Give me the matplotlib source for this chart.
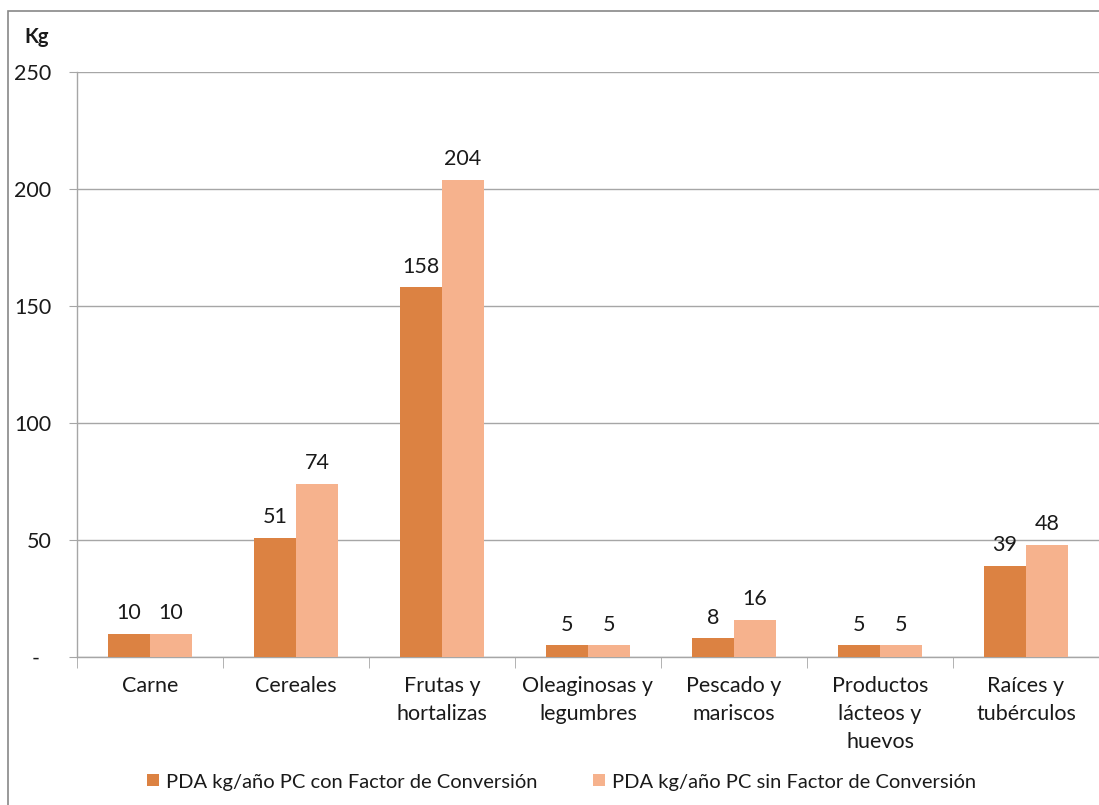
import matplotlib
matplotlib.use("Agg")
import matplotlib.pyplot as plt
from matplotlib.patches import Rectangle
import numpy as np

categories = ["Carne", "Cereales", "Frutas y\nhortalizas", "Oleaginosas y\nlegumbres",
              "Pescado y\nmariscos", "Productos\nlácteos y\nhuevos", "Raíces y\ntubérculos"]
con_factor = [10, 51, 158, 5, 8, 5, 39]
sin_factor = [10, 74, 204, 5, 16, 5, 48]
series_names = ["PDA kg/año PC con Factor de Conversión",
                "PDA kg/año PC sin Factor de Conversión"]
y_ticks = [0, 50, 100, 150, 200, 250]
y_ticklabels = ["-  ", "50", "100", "150", "200", "250"]

plt.rcParams["font.family"] = ["Lato", "DejaVu Sans"]
dark = "#DC8242"
light = "#F6B28D"
grid_c = "#A6A6A6"
text_c = "#1a1a1a"
fs = 15.5

fig = plt.figure(figsize=(10.99, 8.05), dpi=100)
ax = fig.add_axes([77 / 1099, 1 - 657 / 805, 1 - 77 / 1099, (657 - 72) / 805])

x = np.arange(len(categories))
w = 0.288
b1 = ax.bar(x - w / 2, con_factor, w, color=dark, label=series_names[0], zorder=3)
b2 = ax.bar(x + w / 2, sin_factor, w, color=light, label=series_names[1], zorder=3)

for bars, vals in ((b1, con_factor), (b2, sin_factor)):
    for r, v in zip(bars, vals):
        ax.annotate(f"{v}", (r.get_x() + r.get_width() / 2, v), xytext=(0, 7.5),
                    textcoords="offset points", ha="center", va="bottom",
                    fontsize=fs, color=text_c)

ax.set_xlim(-0.5, len(categories) - 0.5)
ax.set_ylim(0, 250)
ax.set_yticks(y_ticks)
ax.set_yticklabels(y_ticklabels, fontsize=fs, color=text_c)
ax.yaxis.grid(True, color=grid_c, linewidth=1, zorder=0)
ax.tick_params(axis="y", length=6, color=grid_c, pad=12.5)

# category labels on the ticks, boundary tick marks on the minor locator
ax.set_xticks(x)
ax.set_xticklabels(categories, fontsize=fs, color=text_c, linespacing=1.5)
ax.tick_params(axis="x", which="major", length=0, pad=14)
ax.set_xticks(np.arange(-0.5, len(categories)), minor=True)
ax.tick_params(axis="x", which="minor", length=8, color=grid_c)

for s in ("top", "right"):
    ax.spines[s].set_visible(False)
for s in ("left", "bottom"):
    ax.spines[s].set_color(grid_c)
    ax.spines[s].set_linewidth(1)

fig.text(24 / 1099, 1 - 37 / 805, "Kg", fontsize=14.5, fontweight="bold",
         color=text_c, ha="left", va="center")

fig.legend(handles=[b1, b2], labels=series_names, loc="center",
           bbox_to_anchor=(0.511, 1 - 782 / 805), ncol=2, frameon=False,
           fontsize=14.5, handlelength=0.55, handleheight=0.55, handletextpad=0.35,
           columnspacing=2.8, labelcolor=text_c)

# outer chart frame
fig.patches.append(Rectangle((8 / 1099, -0.1), 1.2, 1 - 11 / 805 + 0.1,
                             transform=fig.transFigure, fill=False,
                             edgecolor="#888888", linewidth=1.2, zorder=0))

fig.savefig("out.png", dpi=100)
